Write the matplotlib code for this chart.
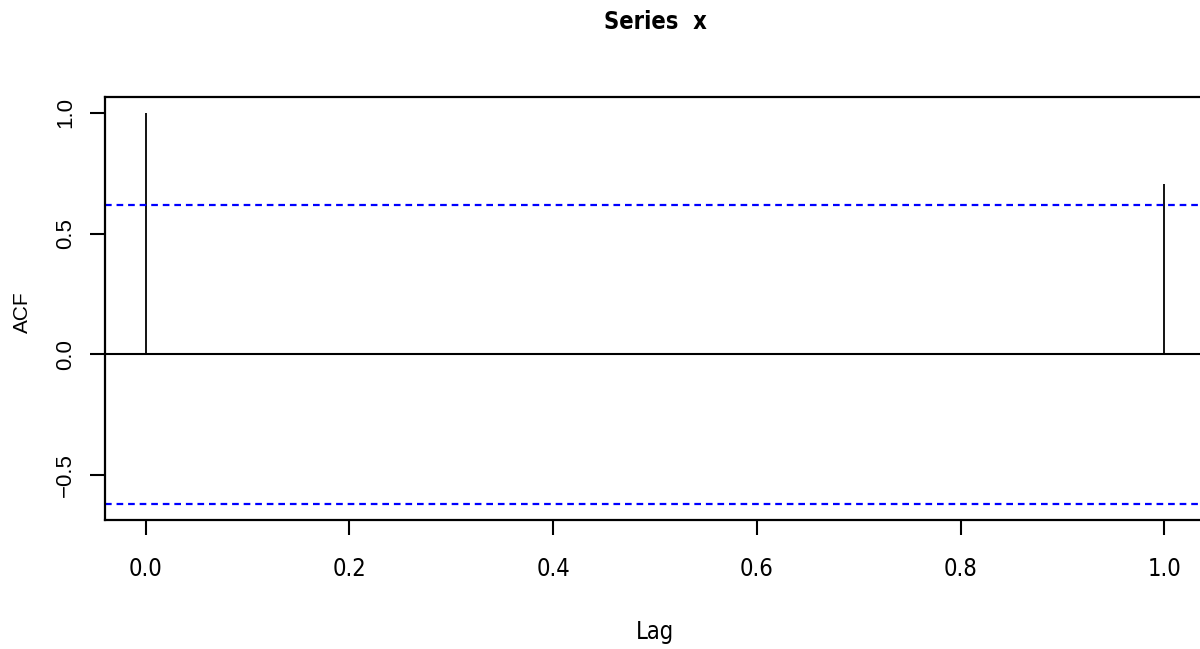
import numpy as np
import matplotlib.pyplot as plt
from matplotlib import font_manager
from matplotlib.font_manager import FontProperties

# ACF of "Series x" (R style acf plot)
lags = [0.0, 1.0]
acf_vals = [1.0, 0.707]
n_obs = 10
ci = 1.96 / np.sqrt(n_obs)
xticks = [0.0, 0.2, 0.4, 0.6, 0.8, 1.0]
yticks = [-0.5, 0.0, 0.5, 1.0]


def pick_narrow(bold):
    # look for any condensed / narrow sans face that is installed
    for f in font_manager.fontManager.ttflist:
        narrowish = ('Narrow' in f.name or 'Condensed' in f.name
                     or f.stretch in ('condensed', 'semi-condensed', 'extra-condensed'))
        is_bold = f.weight in ('bold', 700, 'heavy', 800) or (isinstance(f.weight, int) and f.weight >= 600)
        if narrowish and 'Mono' not in f.name and 'Serif' not in f.name \
                and is_bold == bold and f.style == 'normal':
            return FontProperties(fname=f.fname)
    return FontProperties(family='Liberation Sans', weight='bold' if bold else 'normal')


narrow = pick_narrow(False)
narrow_bold = pick_narrow(True)
wide = 'Liberation Sans'

fig = plt.figure(figsize=(12, 6.49), dpi=100)
# right edge of the box lies just outside the picture, as in the reference
ax = fig.add_axes([105 / 1200, 1 - 520 / 649, 1100 / 1200, 423 / 649])

ax.vlines(lags, 0, acf_vals, color='black', lw=1.3)
ax.axhline(0, color='black', lw=1.5)
ax.axhline(ci, color='#0000ff', lw=1.6, ls=(0, (3, 2.2)))
ax.axhline(-ci, color='#0000ff', lw=1.6, ls=(0, (3, 2.2)))

ax.set_xlim(-0.04, 1.04)
lo, hi = -ci, 1.0
pad = 0.04 * (hi - lo)
ax.set_ylim(lo - pad, hi + pad)

for s in ax.spines.values():
    s.set_linewidth(1.6)
ax.spines['right'].set_visible(False)

ax.set_xticks(xticks)
ax.set_xticklabels(['%.1f' % v for v in xticks])
for t in ax.get_xticklabels():
    t.set_fontproperties(narrow)
    t.set_fontsize(17)
ax.set_yticks(yticks)
ax.set_yticklabels(['\u22120.5', '0.0', '0.5', '1.0'],
                   fontfamily=wide, fontsize=16, rotation=90, va='center')
ax.tick_params(axis='both', length=11, width=1.5, direction='out')
ax.tick_params(axis='x', pad=16)
ax.tick_params(axis='y', pad=10)

t = fig.text(655 / 1200, 1 - 22 / 649, 'Series  x', ha='center', va='center',
             fontproperties=narrow_bold)
t.set_fontsize(17)
t = fig.text(655 / 1200, 1 - 632 / 649, 'Lag', ha='center', va='center',
             fontproperties=narrow)
t.set_fontsize(17)
fig.text(22 / 1200, 1 - 312 / 649, 'ACF', ha='center', va='center',
         fontfamily=wide, fontsize=15, rotation=90)

fig.savefig('out.png', dpi=100)
